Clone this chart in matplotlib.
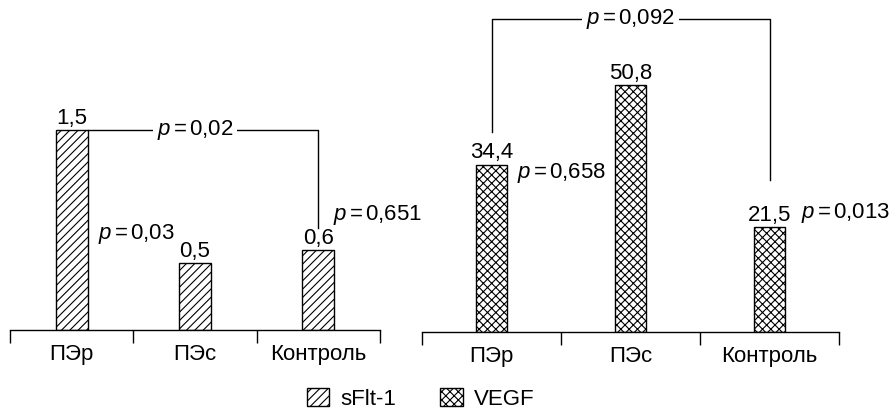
import matplotlib
matplotlib.use("Agg")
import matplotlib.pyplot as plt
from matplotlib.patches import Patch

plt.rcParams['font.family'] = ['Liberation Sans', 'DejaVu Sans']
plt.rcParams['mathtext.fontset'] = 'custom'
plt.rcParams['mathtext.it'] = 'Liberation Sans:italic'
plt.rcParams['mathtext.rm'] = 'Liberation Sans'
plt.rcParams['hatch.linewidth'] = 0.8

groups = ['ПЭр', 'ПЭс', 'Контроль']
sflt_values = [1.5, 0.5, 0.6]
vegf_values = [34.4, 50.8, 21.5]
sflt_labels = ['1,5', '0,5', '0,6']
vegf_labels = ['34,4', '50,8', '21,5']
series_names = ['sFlt-1', 'VEGF']

FS = 16

fig = plt.figure(figsize=(8.91, 4.13), dpi=100)
ax1 = fig.add_axes([10/891, 83/413, 370/891, 330/413])
ax2 = fig.add_axes([422/891, 81/413, 417/891, 332/413])


def style_axis(ax, ytop):
    x = range(len(groups))
    ax.set_xlim(-0.5, len(groups) - 0.5)
    ax.set_ylim(0, ytop)
    for s in ['left', 'top', 'right']:
        ax.spines[s].set_visible(False)
    ax.spines['bottom'].set_linewidth(1.0)
    ax.set_yticks([])
    ax.set_xticks(list(x))
    ax.set_xticklabels(groups, fontsize=FS)
    ax.set_xticks([i - 0.5 for i in range(len(groups) + 1)], minor=True)
    ax.tick_params(axis='x', which='major', length=0, pad=10)
    ax.tick_params(axis='x', which='minor', length=9, width=1.0, direction='out')


def ptext(ax, x, y, val, ha='center', box=False):
    kw = dict(fontsize=FS, ha=ha, va='center')
    if box:
        kw['bbox'] = dict(facecolor='white', edgecolor='none', pad=3)
    ax.text(x, y, r'$p\,$=$\,$' + val, **kw)


# left panel: sFlt-1
style_axis(ax1, 2.475)
w1 = 0.26
ax1.bar(range(3), sflt_values, width=w1, color='white', edgecolor='black',
        linewidth=1.0, hatch='////')
for i, (v, lab) in enumerate(zip(sflt_values, sflt_labels)):
    ax1.annotate(lab, (i, v), xytext=(0, 1), textcoords='offset points',
                 ha='center', va='bottom', fontsize=FS)
ax1.plot([w1 / 2, 2, 2], [sflt_values[0], sflt_values[0], 0.765], color='black', lw=1.0)
ptext(ax1, 1.0, sflt_values[0], '0,02', box=True)
ptext(ax1, 0.52, 0.72, '0,03')
ptext(ax1, 2.12, 0.86, '0,651', ha='left')

# right panel: VEGF
style_axis(ax2, 68.3)
w2 = 0.23
ax2.bar(range(3), vegf_values, width=w2, color='white', edgecolor='black',
        linewidth=1.0, hatch='xxxx')
for i, (v, lab) in enumerate(zip(vegf_values, vegf_labels)):
    ax2.annotate(lab, (i, v), xytext=(0, 1), textcoords='offset points',
                 ha='center', va='bottom', fontsize=FS)
ax2.plot([0, 0, 2, 2], [41.1, 64.4, 64.4, 31.3], color='black', lw=1.0)
ptext(ax2, 1.0, 64.4, '0,092', box=True)
ptext(ax2, 0.18, 32.7, '0,658', ha='left')
ptext(ax2, 2.23, 24.5, '0,013', ha='left')

handles = [Patch(facecolor='white', edgecolor='black', hatch='////', label=series_names[0]),
           Patch(facecolor='white', edgecolor='black', hatch='xxxx', label=series_names[1])]
fig.legend(handles=handles, loc='center', bbox_to_anchor=(0.472, 0.034), ncol=2,
           frameon=False, fontsize=FS, handlelength=1.0, handleheight=0.9,
           handletextpad=0.5, columnspacing=2.0)

fig.savefig('out.png', dpi=100)
